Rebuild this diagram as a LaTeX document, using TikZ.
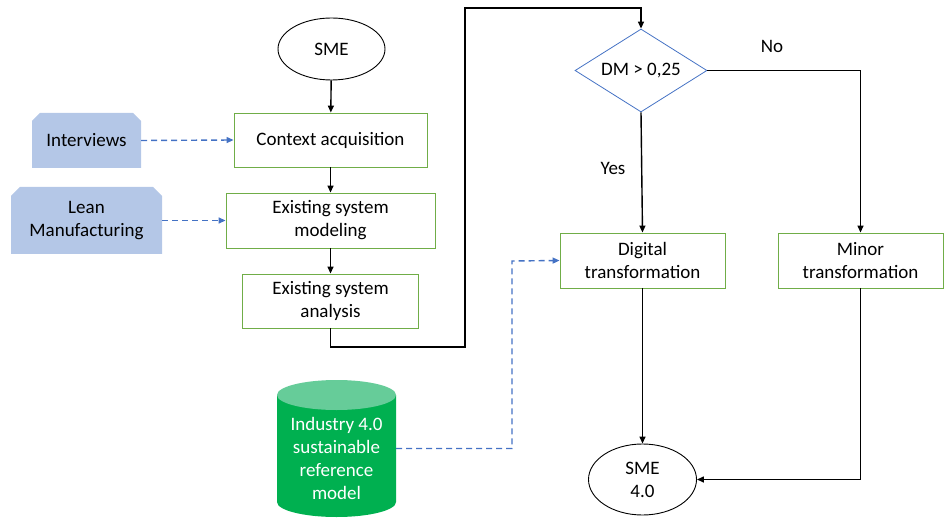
\documentclass[tikz,border=0pt]{standalone}
\usepackage{fontspec}
\setmainfont{Carlito}
\usetikzlibrary{arrows.meta,shapes.geometric,calc}
\definecolor{boxgreen}{HTML}{70AD47}
\definecolor{dblue}{HTML}{4472C4}
\definecolor{lblue}{HTML}{B4C7E7}
\definecolor{cylg}{HTML}{00B050}
\definecolor{cyltop}{HTML}{66CC99}
\begin{document}
\begin{tikzpicture}[x=1pt,y=-1pt,font=\fontsize{19}{23}\selectfont,
  box/.style={draw=boxgreen,line width=0.9pt,align=center,inner sep=0pt},
  term/.style={draw=black,line width=0.9pt,ellipse,align=center,inner sep=0pt},
  flow/.style={draw=black,line width=1.4pt,-{Triangle[length=7pt,width=6pt]}},
  dflow/.style={draw=dblue,line width=1.4pt,dash pattern=on 6pt off 4pt,-{Triangle[length=7pt,width=6pt]}},
  txt/.style={align=center,inner sep=0pt}]
\useasboundingbox (0,0) rectangle (944,518);

% source shapes (snipped rectangles)
\fill[lblue] (32,168) -- (32,121) -- (40,113) -- (133,113) -- (141,121) -- (141,168) -- cycle;
\node[txt,minimum width=109,minimum height=55] (int) at (86.5,140.5) {Interviews};
\fill[lblue] (11,254) -- (11,196) -- (20,187) -- (153,187) -- (162,196) -- (162,254) -- cycle;
\node[txt,minimum width=151,minimum height=67] (lean) at (86.5,220.5) {Lean\\Manufacturing};

% cylinder
\fill[cylg] (277,395) -- (277,502) arc[start angle=180,end angle=360,x radius=59.5,y radius=-15] -- (396,395) -- cycle;
\fill[cyltop] (336.5,395) ellipse[x radius=59.5,y radius=15];
\node[inner sep=0pt,minimum width=119,minimum height=107] (cyl) at (336.5,448.5) {};
\node[txt,text=white] (cyltext) at (336.5,458.5) {Industry 4.0\\sustainable\\reference\\model};

% left flow
\node[term,minimum width=107,minimum height=62] (sme) at (331.5,49) {SME};
\node[box,minimum width=193,minimum height=54] (ctx) at (330.5,140) {Context acquisition};
\node[box,minimum width=209,minimum height=55] (mod) at (330.5,220.5) {Existing system\\modeling};
\node[box,minimum width=176,minimum height=54] (ana) at (330.5,301) {Existing system\\analysis};

% right flow
\node[diamond,draw=dblue,line width=0.8pt,minimum width=132,minimum height=83,inner sep=0pt] (dm) at (641,70.5) {};
\node[txt] (dmtext) at (641,70.5) {DM > 0,25};
\node[box,minimum width=165,minimum height=55] (dig) at (642.5,260.5) {Digital\\transformation};
\node[box,minimum width=165,minimum height=55] (minor) at (860.5,260.5) {Minor\\transformation};
\node[term,minimum width=108,minimum height=71] (sme4) at (642.5,479.5) {SME\\4.0};
\node[txt] (yes) at (613,168) {Yes};
\node[txt] (no) at (772,46) {No};

\coordinate (c1) at (465,347);
\coordinate (c2) at (465,8);
\coordinate (c3) at (512,261);

\draw[flow] (sme) -- (ctx);
\draw[flow] (ctx) -- (mod);
\draw[flow] (mod) -- (ana);
\draw[flow] (ana.south) |- (c1) -- (c2) -| (dm.north);
\draw[flow] (dm.south) -- (dig.north);
\draw[flow] (dm.east) -| (minor.north);
\draw[flow] (dig.south) -- (sme4.north);
\draw[flow] (minor.south) |- (sme4.east);

\draw[dflow] (int.east) -- (ctx.west);
\draw[dflow] (lean.east) -- (mod.west);
\draw[dflow] (cyl.east) -| (c3) -- (dig.west);
\end{tikzpicture}
\end{document}
